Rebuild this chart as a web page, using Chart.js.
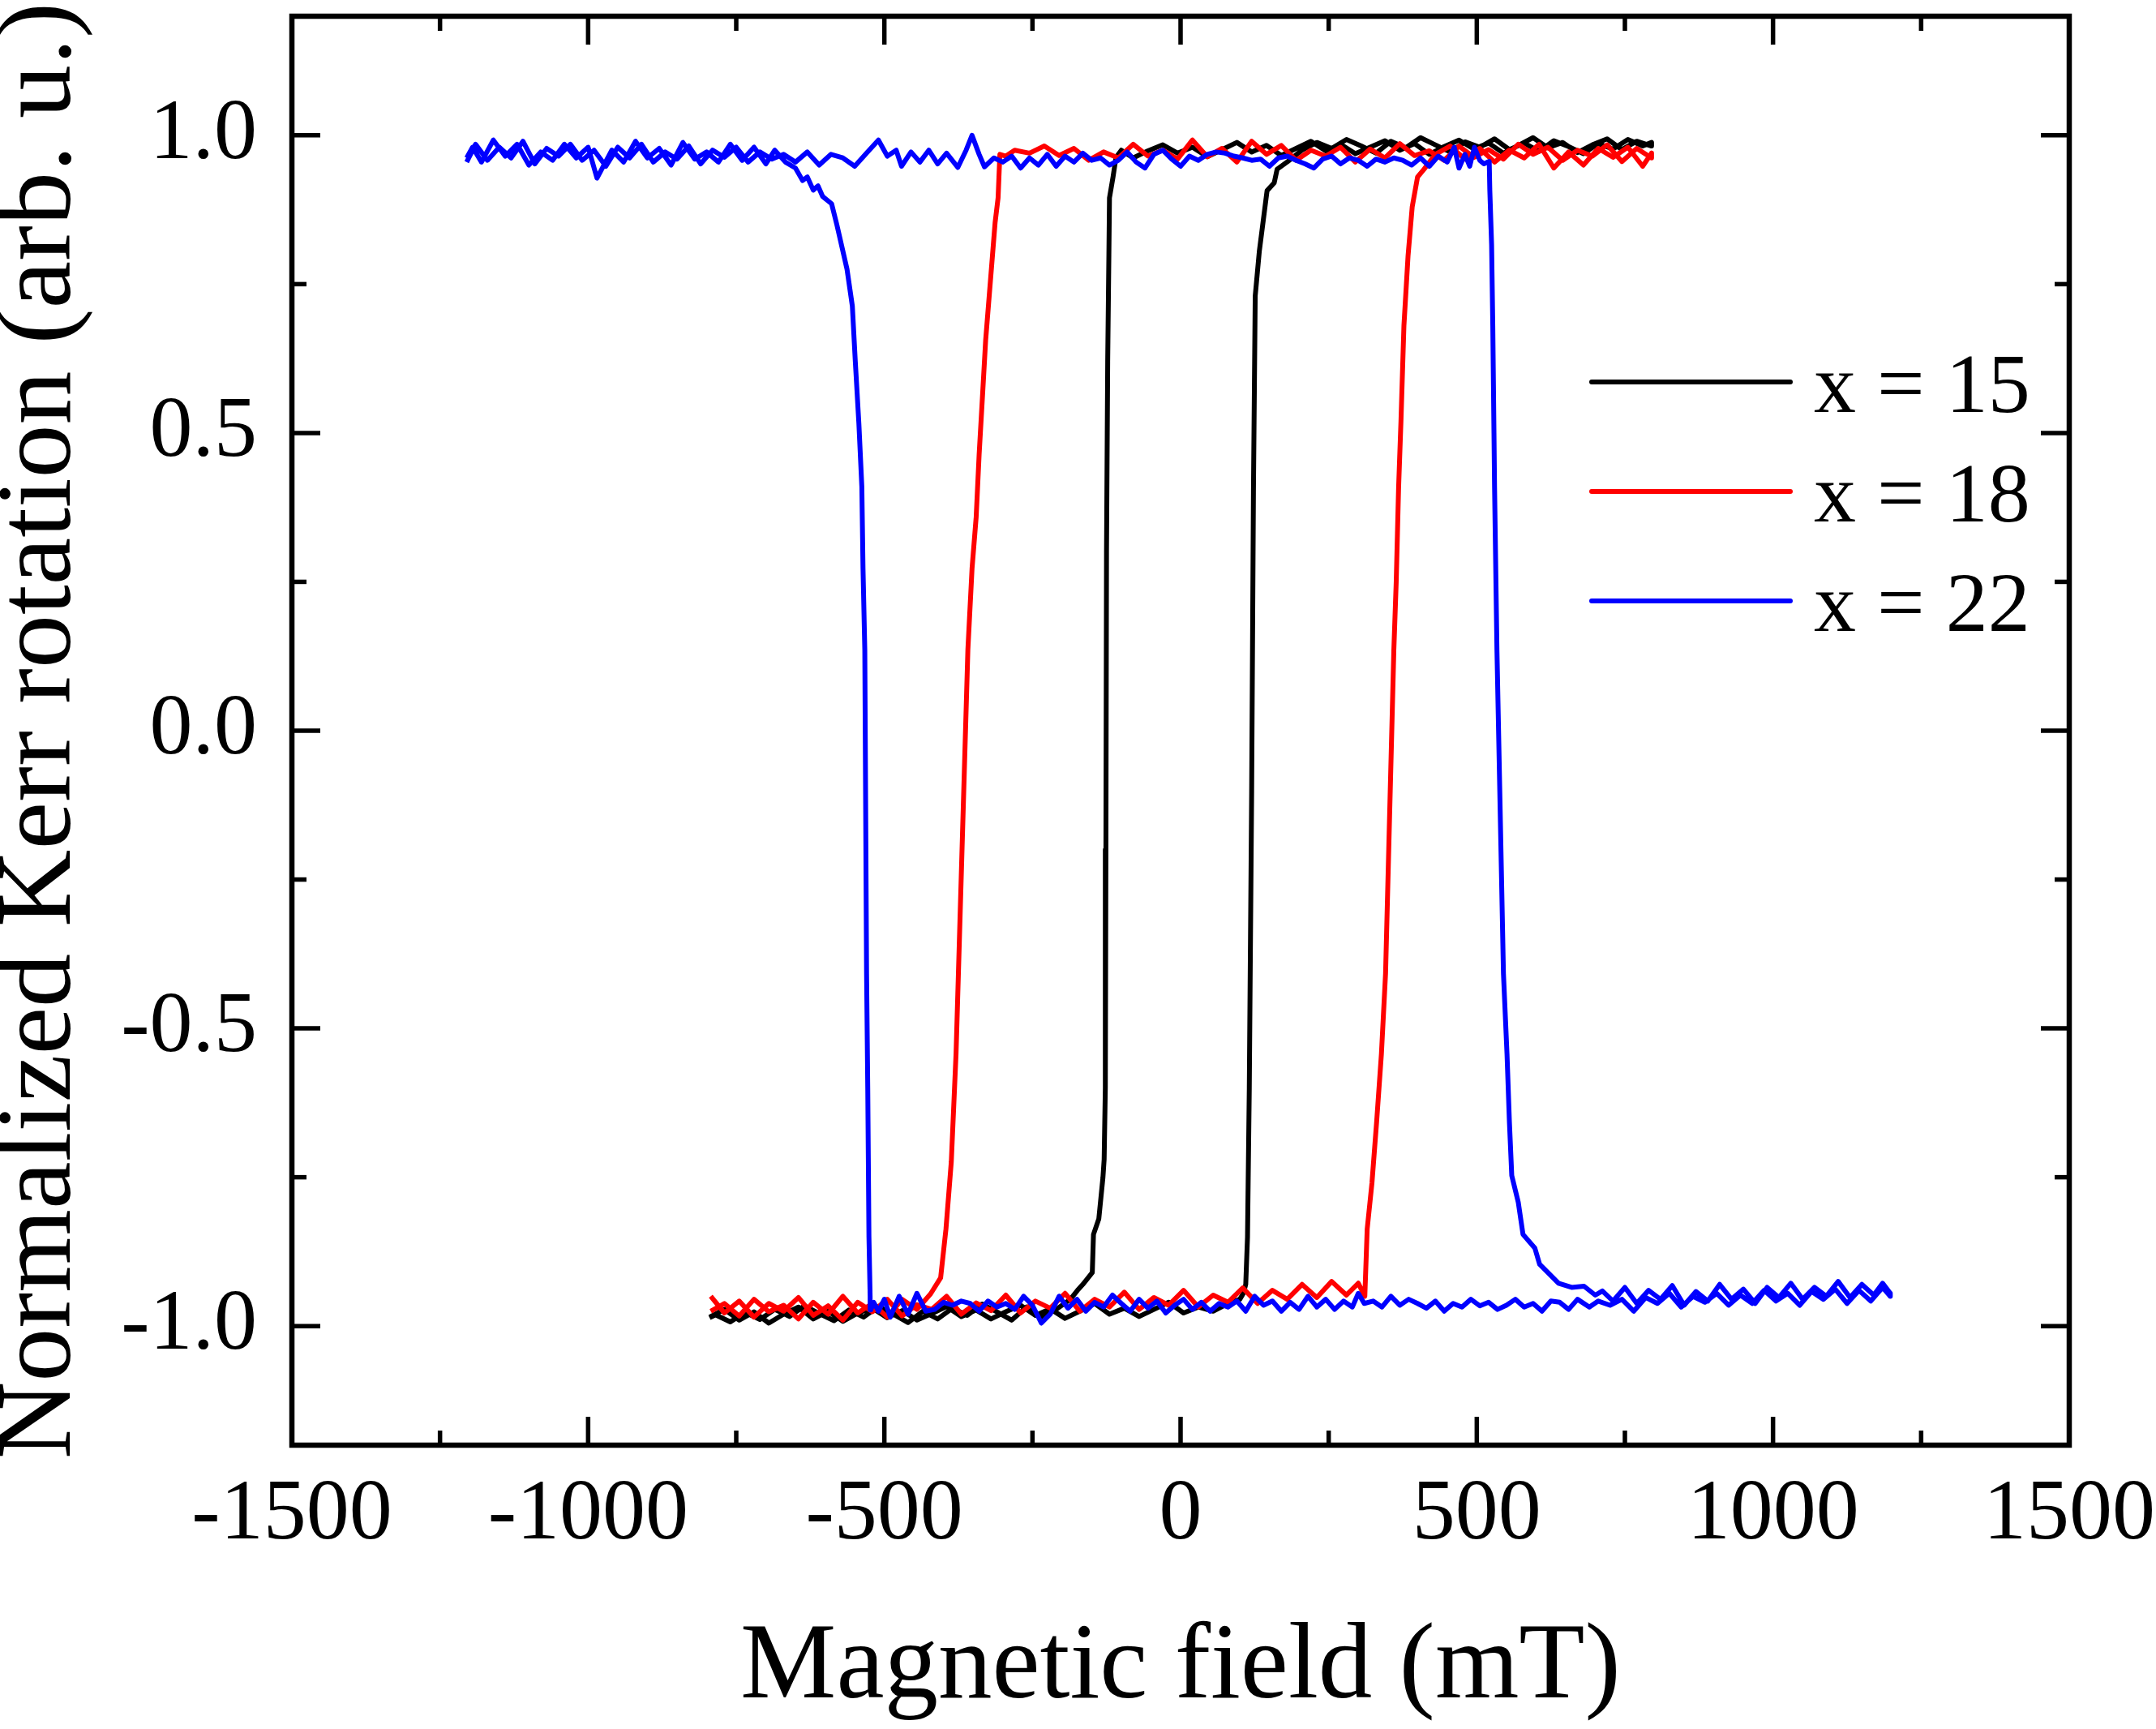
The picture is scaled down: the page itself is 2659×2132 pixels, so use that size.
<!DOCTYPE html>
<html>
<head>
<meta charset="utf-8">
<script src="https://cdn.jsdelivr.net/npm/chart.js@4.4.1/dist/chart.umd.min.js"></script>
<style>
  html, body { margin: 0; padding: 0; background: #fff; }
  #wrap { width: 2659px; height: 2132px; }
</style>
</head>
<body>
<div id="wrap"><canvas id="kerrChart" width="2659" height="2132"></canvas></div>
<script>
// axis ticks
const fieldTicks = [-1500, -1000, -500, 0, 500, 1000, 1500];
const kerrTicks = [-1.0, -0.5, 0.0, 0.5, 1.0];

const seriesLabels = ['x = 15', 'x = 18', 'x = 22'];
const seriesColors = ['#000000', '#ff0000', '#0000ff'];

// x = 15 : field rising, then field falling   [field (mT), kerr]
const loop15Up = [
  [-795,-0.985],[-770,-0.972],[-745,-0.990],[-720,-0.976],[-695,-0.995],[-670,-0.980],[-645,-0.968],[-620,-0.988],
  [-595,-0.975],[-570,-0.992],[-545,-0.978],[-520,-0.970],[-495,-0.986],[-470,-0.974],[-445,-0.990],[-420,-0.979],
  [-395,-0.967],[-370,-0.984],[-345,-0.973],[-320,-0.988],[-295,-0.976],[-270,-0.965],[-245,-0.982],[-220,-0.971],
  [-195,-0.987],[-170,-0.975],[-145,-0.962],[-120,-0.980],[-95,-0.970],[-70,-0.984],[-45,-0.972],[-20,-0.960],
  [5,-0.978],[30,-0.968],[55,-0.975],[80,-0.962],[100,-0.955],[106,-0.945],[110,-0.930],[113,-0.850],
  [116,-0.600],[120,-0.100],[123,0.400],[126,0.730],[133,0.806],[146,0.907],[158,0.920],[163,0.943],
  [181,0.956],[205,0.975],[230,0.988],[255,0.978],[280,0.993],[305,0.982],[330,0.970],[355,0.990],
  [380,0.979],[405,0.996],[430,0.984],[455,0.972],[480,0.989],[505,0.980],[530,0.994],[555,0.976],
  [580,0.987],[605,0.973],[630,0.991],[655,0.981],[680,0.969],[705,0.986],[730,0.977],[755,0.993],
  [780,0.982],[795,0.988]
];
const loop15Down = [
  [795,0.982],[770,0.990],[745,0.976],[720,0.994],[695,0.984],[670,0.971],[645,0.988],[620,0.979],
  [595,0.996],[570,0.983],[545,0.970],[520,0.987],[495,0.977],[470,0.992],[445,0.981],[420,0.968],
  [395,0.986],[370,0.975],[345,0.991],[320,0.980],[295,0.969],[270,0.985],[245,0.974],[220,0.990],
  [195,0.978],[170,0.966],[145,0.983],[120,0.972],[95,0.988],[70,0.976],[45,0.964],[20,0.980],
  [-5,0.970],[-30,0.984],[-55,0.974],[-80,0.962],[-100,0.975],[-109,0.963],[-114,0.930],[-120,0.895],
  [-121,0.800],[-123,0.620],[-125,0.300],[-126,-0.200],[-127,-0.600],[-129,-0.720],[-131,-0.750],[-138,-0.820],
  [-147,-0.846],[-149,-0.910],[-165,-0.930],[-174,-0.940],[-186,-0.955],[-210,-0.972],[-235,-0.985],[-260,-0.968],
  [-285,-0.990],[-310,-0.976],[-335,-0.963],[-360,-0.982],[-385,-0.970],[-410,-0.988],[-435,-0.975],[-460,-0.994],
  [-485,-0.980],[-510,-0.967],[-535,-0.985],[-560,-0.973],[-585,-0.991],[-610,-0.979],[-635,-0.966],[-660,-0.984],
  [-685,-0.972],[-710,-0.989],[-735,-0.977],[-760,-0.993],[-785,-0.981],[-795,-0.986]
];

// x = 18
const loop18Up = [
  [-793,-0.950],[-770,-0.978],[-745,-0.958],[-720,-0.985],[-695,-0.962],[-670,-0.975],[-645,-0.952],[-620,-0.982],
  [-595,-0.966],[-570,-0.990],[-545,-0.960],[-520,-0.976],[-495,-0.955],[-470,-0.983],[-445,-0.964],[-420,-0.972],
  [-395,-0.950],[-370,-0.980],[-345,-0.961],[-320,-0.974],[-295,-0.948],[-270,-0.978],[-245,-0.958],[-220,-0.970],
  [-195,-0.945],[-170,-0.975],[-145,-0.955],[-120,-0.968],[-95,-0.943],[-70,-0.972],[-45,-0.952],[-20,-0.965],
  [5,-0.940],[30,-0.968],[55,-0.948],[80,-0.960],[105,-0.936],[130,-0.962],[155,-0.940],[180,-0.955],
  [205,-0.930],[230,-0.952],[255,-0.925],[280,-0.948],[300,-0.928],[311,-0.950],[315,-0.837],[323,-0.760],
  [331,-0.656],[339,-0.543],[346,-0.408],[360,0.136],[364,0.250],[368,0.408],[372,0.520],[377,0.680],
  [384,0.798],[391,0.880],[400,0.930],[411,0.943],[430,0.968],[455,0.982],[480,0.960],[505,0.978],
  [530,0.955],[555,0.975],[580,0.962],[605,0.985],[630,0.945],[655,0.972],[680,0.950],[705,0.978],
  [730,0.963],[755,0.980],[780,0.948],[795,0.970]
];
const loop18Down = [
  [795,0.962],[770,0.978],[745,0.956],[720,0.984],[695,0.965],[670,0.975],[645,0.958],[620,0.980],
  [595,0.968],[570,0.985],[545,0.960],[520,0.976],[495,0.963],[470,0.982],[445,0.958],[420,0.974],
  [395,0.966],[370,0.986],[345,0.962],[320,0.977],[295,0.955],[270,0.980],[245,0.965],[220,0.975],
  [195,0.958],[170,0.983],[145,0.968],[120,0.990],[95,0.955],[70,0.978],[45,0.964],[20,0.992],
  [-5,0.960],[-30,0.975],[-55,0.965],[-80,0.985],[-105,0.962],[-130,0.972],[-155,0.958],[-180,0.978],
  [-205,0.966],[-230,0.982],[-255,0.970],[-280,0.975],[-295,0.965],[-305,0.968],[-308,0.895],[-313,0.854],
  [-321,0.755],[-329,0.656],[-334,0.568],[-340,0.464],[-345,0.359],[-352,0.272],[-359,0.136],[-375,-0.408],
  [-379,-0.543],[-387,-0.724],[-396,-0.837],[-405,-0.919],[-422,-0.946],[-445,-0.972],[-470,-0.955],[-495,-0.985],
  [-520,-0.962],[-545,-0.978],[-570,-0.950],[-595,-0.980],[-620,-0.960],[-645,-0.988],[-670,-0.965],[-695,-0.976],
  [-720,-0.955],[-745,-0.983],[-770,-0.962],[-793,-0.975]
];

// x = 22 (loop runs the other way round)
const loop22Up = [
  [-1205,0.955],[-1190,0.985],[-1170,0.958],[-1150,0.980],[-1130,0.962],[-1110,0.990],[-1090,0.952],[-1070,0.978],
  [-1050,0.965],[-1030,0.985],[-1010,0.958],[-990,0.975],[-970,0.948],[-950,0.980],[-930,0.962],[-910,0.985],
  [-890,0.955],[-870,0.972],[-850,0.960],[-830,0.982],[-810,0.952],[-790,0.975],[-770,0.963],[-750,0.980],
  [-730,0.955],[-710,0.972],[-690,0.960],[-670,0.968],[-650,0.955],[-630,0.972],[-610,0.950],[-590,0.968],
  [-570,0.962],[-550,0.948],[-530,0.970],[-510,0.992],[-495,0.965],[-480,0.975],[-471,0.948],[-455,0.972],
  [-440,0.955],[-425,0.975],[-410,0.952],[-395,0.970],[-376,0.946],[-362,0.975],[-352,1.000],[-340,0.968],
  [-331,0.947],[-315,0.962],[-300,0.955],[-285,0.965],[-270,0.945],[-255,0.962],[-240,0.950],[-225,0.968],
  [-210,0.948],[-195,0.965],[-180,0.955],[-165,0.970],[-150,0.958],[-135,0.962],[-120,0.950],[-105,0.958],
  [-90,0.972],[-75,0.955],[-60,0.945],[-45,0.968],[-30,0.975],[-15,0.960],[0,0.948],[15,0.965],
  [30,0.958],[45,0.968],[60,0.972],[75,0.970],[90,0.965],[105,0.962],[120,0.958],[135,0.960],
  [150,0.948],[165,0.962],[180,0.965],[195,0.958],[210,0.952],[225,0.945],[240,0.960],[255,0.965],
  [270,0.952],[285,0.962],[300,0.958],[315,0.948],[330,0.960],[345,0.955],[360,0.962],[375,0.958],
  [390,0.950],[405,0.962],[420,0.948],[435,0.965],[450,0.955],[462,0.980],[470,0.945],[480,0.968],
  [488,0.948],[496,0.980],[505,0.958],[512,0.952],[518,0.955],[521,0.956],[522,0.907],[525,0.816],
  [527,0.680],[529,0.500],[530,0.408],[534,0.136],[545,-0.408],[551,-0.543],[555,-0.656],[559,-0.747],
  [570,-0.792],[578,-0.846],[598,-0.869],[606,-0.896],[638,-0.928],[660,-0.935],[681,-0.933],[700,-0.948],
  [712,-0.941],[730,-0.958],[750,-0.935],[770,-0.962],[790,-0.940],[810,-0.955],[830,-0.932],[850,-0.965],
  [870,-0.942],[890,-0.958],[910,-0.930],[930,-0.955],[950,-0.938],[970,-0.962],[990,-0.935],[1010,-0.952],
  [1030,-0.928],[1050,-0.955],[1070,-0.935],[1090,-0.950],[1110,-0.925],[1130,-0.952],[1150,-0.930],[1170,-0.948],
  [1185,-0.928],[1198,-0.945]
];
const loop22Down = [
  [1198,-0.950],[1185,-0.935],[1165,-0.958],[1145,-0.940],[1125,-0.962],[1105,-0.938],[1085,-0.955],[1065,-0.942],
  [1045,-0.965],[1025,-0.945],[1005,-0.958],[985,-0.940],[965,-0.962],[945,-0.948],[925,-0.965],[905,-0.945],
  [885,-0.960],[865,-0.950],[845,-0.968],[825,-0.945],[805,-0.962],[785,-0.952],[765,-0.975],[745,-0.955],
  [725,-0.965],[705,-0.958],[690,-0.968],[670,-0.955],[655,-0.972],[640,-0.960],[625,-0.958],[610,-0.975],
  [595,-0.962],[580,-0.968],[565,-0.955],[550,-0.965],[535,-0.972],[520,-0.960],[505,-0.966],[490,-0.955],
  [475,-0.968],[460,-0.962],[445,-0.975],[430,-0.958],[415,-0.970],[400,-0.962],[385,-0.955],[370,-0.965],
  [355,-0.950],[340,-0.968],[325,-0.958],[310,-0.962],[300,-0.945],[290,-0.968],[275,-0.958],[260,-0.972],
  [245,-0.955],[230,-0.968],[215,-0.950],[200,-0.972],[185,-0.960],[170,-0.975],[155,-0.958],[140,-0.965],
  [125,-0.950],[110,-0.975],[95,-0.958],[80,-0.968],[65,-0.962],[50,-0.975],[35,-0.960],[20,-0.972],
  [5,-0.955],[-10,-0.965],[-25,-0.978],[-40,-0.958],[-55,-0.970],[-70,-0.955],[-85,-0.975],[-100,-0.962],
  [-115,-0.948],[-130,-0.968],[-145,-0.960],[-160,-0.975],[-175,-0.955],[-190,-0.970],[-205,-0.950],[-220,-0.980],
  [-235,-0.995],[-250,-0.965],[-265,-0.950],[-280,-0.972],[-295,-0.962],[-310,-0.968],[-325,-0.958],[-340,-0.975],
  [-355,-0.962],[-370,-0.958],[-385,-0.965],[-400,-0.960],[-415,-0.972],[-430,-0.975],[-445,-0.945],[-460,-0.980],
  [-475,-0.950],[-490,-0.985],[-500,-0.955],[-510,-0.975],[-518,-0.960],[-523,-0.973],[-524,-0.950],[-526,-0.850],
  [-528,-0.600],[-530,-0.408],[-533,0.136],[-536,0.272],[-538,0.410],[-543,0.516],[-549,0.620],[-554,0.713],
  [-563,0.775],[-580,0.849],[-589,0.885],[-604,0.897],[-612,0.915],[-620,0.908],[-630,0.930],[-638,0.924],
  [-650,0.945],[-667,0.955],[-685,0.975],[-700,0.952],[-720,0.980],[-740,0.958],[-760,0.985],[-780,0.955],
  [-800,0.972],[-820,0.960],[-840,0.988],[-860,0.950],[-880,0.978],[-900,0.962],[-920,0.990],[-940,0.955],
  [-960,0.975],[-985,0.928],[-1000,0.980],[-1020,0.962],[-1040,0.985],[-1060,0.958],[-1080,0.972],[-1100,0.950],
  [-1120,0.985],[-1140,0.965],[-1160,0.992],[-1180,0.955],[-1195,0.980],[-1205,0.962]
];

const loops = [loop15Up.concat(loop15Down), loop18Up.concat(loop18Down), loop22Up.concat(loop22Down)];

const serif = "'Liberation Serif', 'Times New Roman', serif";
Chart.defaults.font.family = serif;
Chart.defaults.color = '#000';

// major ticks come from the arrays, a minor tick sits halfway between two majors
function tickMarks(values) {
  const marks = [];
  values.forEach((v, i) => {
    marks.push({ value: v, major: true });
    if (i < values.length - 1) marks.push({ value: (v + values[i + 1]) / 2, major: false });
  });
  return marks;
}

const frameAndTicks = {
  id: 'frameAndTicks',
  afterDatasetsDraw(chart) {
    const { ctx, chartArea: a, scales: { x, y } } = chart;
    ctx.save();
    ctx.strokeStyle = '#000';
    ctx.lineWidth = 5.5;
    ctx.lineCap = 'butt';
    const line = (x1, y1, x2, y2) => {
      ctx.beginPath();
      ctx.moveTo(x1, y1);
      ctx.lineTo(x2, y2);
      ctx.stroke();
    };
    tickMarks(fieldTicks).forEach(m => {
      const px = x.getPixelForValue(m.value);
      const len = m.major ? 35 : 18;
      line(px, a.bottom, px, a.bottom - len);
      line(px, a.top, px, a.top + len);
    });
    tickMarks(kerrTicks).forEach(m => {
      const py = y.getPixelForValue(m.value);
      const len = m.major ? 35 : 18;
      line(a.left, py, a.left + len, py);
      line(a.right, py, a.right - len, py);
    });
    ctx.lineWidth = 6.5;
    ctx.strokeRect(a.left, a.top, a.right - a.left, a.bottom - a.top);
    ctx.restore();
  }
};

// legend in the upper right of the plot
const lineLegend = {
  id: 'lineLegend',
  afterDraw(chart) {
    const { ctx, chartArea: a } = chart;
    ctx.save();
    ctx.font = '104px ' + serif;
    ctx.textAlign = 'left';
    ctx.textBaseline = 'alphabetic';
    chart.data.datasets.forEach((ds, i) => {
      const rowY = a.top + 451 + i * 135;
      ctx.strokeStyle = ds.borderColor;
      ctx.lineWidth = 6;
      ctx.lineCap = 'round';
      ctx.beginPath();
      ctx.moveTo(a.right - 589, rowY);
      ctx.lineTo(a.right - 344, rowY);
      ctx.stroke();
      ctx.fillStyle = '#000';
      ctx.fillText(ds.label, a.right - 315, rowY + 37);
    });
    ctx.restore();
  }
};

const datasets = loops.map((pts, i) => ({
  label: seriesLabels[i],
  data: pts.map(p => ({ x: p[0], y: p[1] })),
  borderColor: seriesColors[i],
  backgroundColor: seriesColors[i],
  borderWidth: 6,
  borderJoinStyle: 'round',
  pointRadius: 0,
  showLine: true,
  tension: 0,
  order: 3 - i
}));

new Chart(document.getElementById('kerrChart').getContext('2d'), {
  type: 'scatter',
  data: { datasets: datasets },
  options: {
    responsive: false,
    animation: false,
    devicePixelRatio: 1,
    layout: { padding: { left: 0, top: 20, right: 107, bottom: 0 } },
    plugins: {
      legend: { display: false },
      tooltip: { enabled: false }
    },
    scales: {
      x: {
        type: 'linear',
        position: 'bottom',
        min: -1500,
        max: 1500,
        grid: { display: false, drawTicks: false },
        border: { display: false },
        afterBuildTicks: scale => { scale.ticks = fieldTicks.map(v => ({ value: v })); },
        afterFit: scale => {
          scale.height = 350;
          scale.paddingLeft = 0;
          scale.paddingRight = 0;
        },
        ticks: {
          padding: 24,
          maxRotation: 0,
          font: { size: 106 },
          color: '#000',
          callback: v => String(v)
        },
        title: {
          display: true,
          text: 'Magnetic field (mT)',
          font: { size: 133, lineHeight: 1.11 },
          padding: 0,
          color: '#000'
        }
      },
      y: {
        type: 'linear',
        min: -1.2,
        max: 1.2,
        grid: { display: false, drawTicks: false },
        border: { display: false },
        afterBuildTicks: scale => { scale.ticks = kerrTicks.map(v => ({ value: v })); },
        afterFit: scale => {
          scale.width = 360;
          scale.paddingTop = 0;
          scale.paddingBottom = 0;
        },
        ticks: {
          padding: 43,
          font: { size: 106 },
          color: '#000',
          callback: v => Number(v).toFixed(1)
        },
        title: {
          display: true,
          text: 'Normalized Kerr rotation (arb. u.)',
          font: { size: 132, lineHeight: 0.78 },
          padding: 0,
          color: '#000'
        }
      }
    }
  },
  plugins: [frameAndTicks, lineLegend]
});
</script>
</body>
</html>
